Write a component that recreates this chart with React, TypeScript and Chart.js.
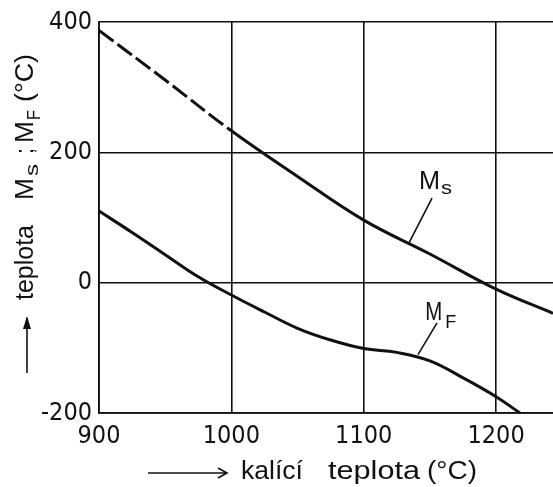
import React, { useEffect, useRef } from 'react';
import { Chart, registerables } from 'chart.js';

Chart.register(...registerables);

// ---- data ----
const msTemps = [900, 950, 1000, 1050, 1100, 1150, 1200, 1243];
const msValues = [387, 311, 233, 163, 96, 44, -10, -47];
const mfTemps = [900, 925, 950, 975, 1000, 1025, 1050, 1075, 1100, 1125, 1150, 1175, 1200, 1218];
const mfValues = [110, 77, 43, 9, -19, -45, -70, -88, -101, -107, -120, -146, -175, -200];
const xTicks = [900, 1000, 1100, 1200];
const yTicks = [-200, 0, 200, 400];
const xMin = 900;
const xMax = 1243;
const yMin = -200;
const yMax = 400;
const msDashedUntil = 1000;

const INK = '#111111';

function hasFont(name: string): boolean {
  const c = document.createElement('canvas').getContext('2d');
  if (!c) return false;
  const s = 'abcdefghiMW1000';
  c.font = '40px monospace';
  const a = c.measureText(s).width;
  c.font = `40px "${name}", monospace`;
  const b = c.measureText(s).width;
  return Math.abs(a - b) > 0.5;
}

function drawFit(ctx: CanvasRenderingContext2D, text: string, x: number, y: number, w: number, font: string) {
  ctx.save();
  ctx.font = font;
  const mw = ctx.measureText(text).width || 1;
  ctx.translate(x, y);
  ctx.scale(w / mw, 1);
  ctx.textAlign = 'left';
  ctx.textBaseline = 'alphabetic';
  ctx.fillText(text, 0, 0);
  ctx.restore();
}

const decorPlugin = {
  id: 'decor',
  afterDraw(chart: any) {
    const ctx: CanvasRenderingContext2D = chart.ctx;
    const xs = chart.scales.x;
    const ys = chart.scales.y;
    const px = (v: number) => xs.getPixelForValue(v);
    const py = (v: number) => ys.getPixelForValue(v);
    const big = '25px "Liberation Sans", "DejaVu Sans", sans-serif';
    const small = '19px "Liberation Sans", "DejaVu Sans", sans-serif';
    ctx.save();
    ctx.fillStyle = INK;
    ctx.strokeStyle = INK;

    // curve labels
    const msX = px(1141.8), msY = py(143.3);
    drawFit(ctx, 'M', msX, msY, 21, big);
    drawFit(ctx, 's', msX + 22, msY + 5, 11, small);
    const mfX = px(1146.4), mfY = py(-57.2);
    drawFit(ctx, 'M', mfX, mfY, 17, big);
    drawFit(ctx, 'F', mfX + 20, mfY + 8, 11, small);

    // leader lines
    ctx.lineWidth = 1.6;
    ctx.beginPath();
    ctx.moveTo(px(1151.6), py(129.6));
    ctx.lineTo(px(1134.3), py(61.3));
    ctx.moveTo(px(1155.4), py(-61.8));
    ctx.lineTo(px(1141), py(-110.4));
    ctx.stroke();

    // x-axis title with arrow
    ctx.lineWidth = 1.6;
    ctx.beginPath();
    ctx.moveTo(148, 473);
    ctx.lineTo(227, 473);
    ctx.moveTo(218, 468);
    ctx.lineTo(227, 473);
    ctx.lineTo(218, 478);
    ctx.stroke();
    drawFit(ctx, 'kalící', 241, 479, 62, big);
    drawFit(ctx, 'teplota', 328, 479, 92, big);
    drawFit(ctx, '(°C)', 427, 479, 50, big);

    // y-axis title (rotated) with arrow
    ctx.beginPath();
    ctx.moveTo(27, 373);
    ctx.lineTo(27, 318);
    ctx.stroke();
    ctx.beginPath();
    ctx.moveTo(27, 316);
    ctx.lineTo(23, 329);
    ctx.lineTo(31, 329);
    ctx.closePath();
    ctx.fill();

    ctx.save();
    ctx.translate(33, 300);
    ctx.rotate(-Math.PI / 2);
    drawFit(ctx, 'teplota', 0, 0, 75, big);
    drawFit(ctx, 'M', 100, 0, 22, big);
    drawFit(ctx, 's', 124, 5, 12, small);
    drawFit(ctx, ';', 146, 0, 6, big);
    drawFit(ctx, 'M', 157, 0, 22, big);
    drawFit(ctx, 'F', 180, 7, 10, small);
    drawFit(ctx, '(°C)', 198, 0, 48, big);
    ctx.restore();

    ctx.restore();
  },
};

export default function App() {
  const ref = useRef<HTMLCanvasElement | null>(null);

  useEffect(() => {
    document.body.style.margin = '0';
    const canvas = ref.current;
    if (!canvas) return;
    let tickFont: any = { family: '"Liberation Sans", "DejaVu Sans", sans-serif', size: 25 };
    if (hasFont('Liberation Sans Narrow')) {
      tickFont = { family: '"Liberation Sans Narrow", "Liberation Sans", sans-serif', size: 27 };
    } else if (hasFont('DejaVu Sans Condensed')) {
      tickFont = { family: '"DejaVu Sans Condensed", "Liberation Sans", sans-serif', size: 25 };
    }

    const chart = new Chart(canvas, {
      type: 'line',
      data: {
        datasets: [
          {
            label: 'Ms',
            data: msTemps.map((t, i) => ({ x: t, y: msValues[i] })),
            borderColor: INK,
            borderWidth: 3,
            pointRadius: 0,
            fill: false,
            tension: 0.4,
            segment: {
              borderDash: (c: any) => (c.p1.parsed.x <= msDashedUntil ? [18, 5] : undefined),
            },
          },
          {
            label: 'MF',
            data: mfTemps.map((t, i) => ({ x: t, y: mfValues[i] })),
            borderColor: INK,
            borderWidth: 3,
            pointRadius: 0,
            fill: false,
            tension: 0.4,
          },
        ],
      },
      options: {
        animation: false,
        responsive: false,
        maintainAspectRatio: false,
        layout: { padding: { top: 19, right: 0, left: 0, bottom: 0 } },
        plugins: {
          legend: { display: false },
          tooltip: { enabled: false },
        },
        scales: {
          x: {
            type: 'linear',
            min: xMin,
            max: xMax,
            afterBuildTicks: (s: any) => {
              s.ticks = xTicks.map((v) => ({ value: v }));
            },
            afterFit: (s: any) => {
              s.height = 74;
            },
            grid: { color: INK, lineWidth: 1.6, drawTicks: false },
            border: { display: true, color: INK, width: 1.8 },
            ticks: {
              color: INK,
              font: tickFont,
              padding: 8,
              maxRotation: 0,
              autoSkip: false,
              callback: (v: any) => String(v),
            },
          },
          y: {
            type: 'linear',
            min: yMin,
            max: yMax,
            afterBuildTicks: (s: any) => {
              s.ticks = yTicks.map((v) => ({ value: v }));
            },
            afterFit: (s: any) => {
              s.width = 99;
            },
            grid: { color: INK, lineWidth: 1.6, drawTicks: false },
            border: { display: true, color: INK, width: 1.8 },
            ticks: {
              color: INK,
              font: tickFont,
              padding: 7,
              autoSkip: false,
              callback: (v: any) => String(v),
            },
          },
        },
      },
      plugins: [decorPlugin],
    } as any);

    return () => chart.destroy();
  }, []);

  return (
    <div style={{ width: 553, height: 487, background: '#fff' }}>
      <canvas ref={ref} width={553} height={487} style={{ display: 'block', width: 553, height: 487 }} />
    </div>
  );
}
